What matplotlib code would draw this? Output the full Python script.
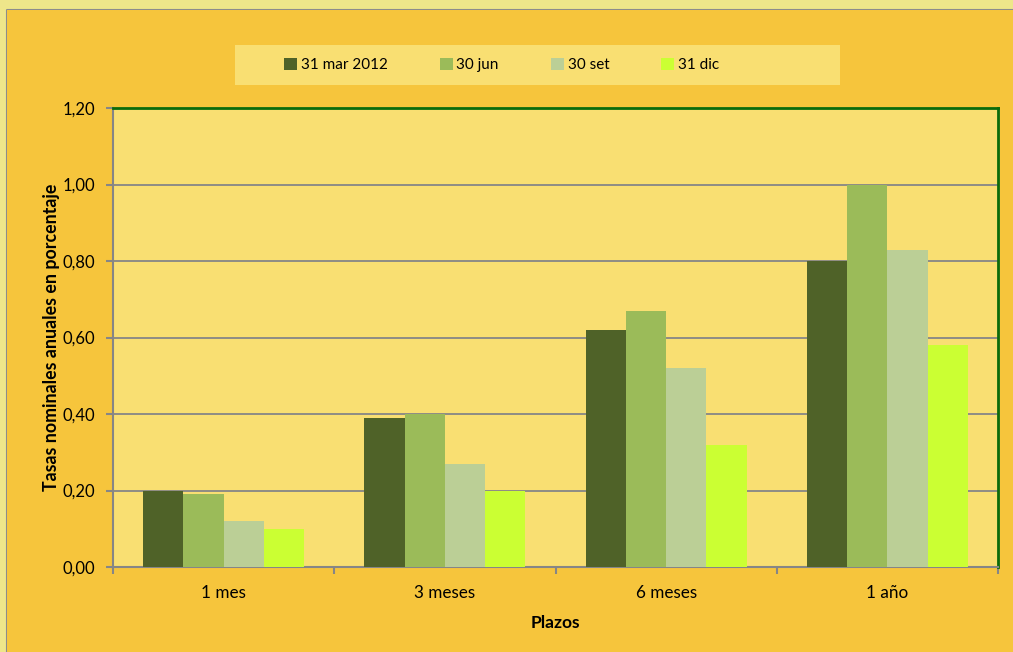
import numpy as np
import matplotlib
matplotlib.use("Agg")
import matplotlib.pyplot as plt
from matplotlib.patches import Rectangle
from matplotlib.lines import Line2D

plt.rcParams['font.family'] = ['Lato', 'DejaVu Sans']

categories = ['1 mes', '3 meses', '6 meses', '1 año']
series_names = ['31 mar 2012', '30 jun', '30 set', '31 dic']
mar_2012 = [0.20, 0.39, 0.62, 0.80]
jun = [0.19, 0.40, 0.67, 1.00]
set_ = [0.12, 0.27, 0.52, 0.83]
dic = [0.10, 0.20, 0.32, 0.58]
colors = ['#4F6228', '#9BBB59', '#BBCF96', '#CBFF33']
yticks = [0.0, 0.2, 0.4, 0.6, 0.8, 1.0, 1.2]

W, H = 1013, 652
fig = plt.figure(figsize=(W / 100, H / 100), dpi=100)
fig.patch.set_facecolor('#EEE68A')

# outer chart area (cropped at right/bottom), gray frame on top and left only
fig.patches.append(Rectangle((7 / W, -0.1), 1.2, 1.1 - 10 / H, transform=fig.transFigure,
                             facecolor='#F6C53C', edgecolor='none', zorder=-3))
fig.lines.append(Line2D([7 / W, 7 / W, 1.1], [-0.1, 1 - 10 / H, 1 - 10 / H],
                        transform=fig.transFigure, color='#8C8C8C', linewidth=1.5, zorder=-3))
# legend background
fig.patches.append(Rectangle((235 / W, 1 - 85 / H), 605 / W, 40 / H, transform=fig.transFigure,
                             facecolor='#F9DF72', edgecolor='none', zorder=-2))

ax = fig.add_axes([113 / W, 85 / H, 885 / W, 459 / H])
ax.set_facecolor('#F9DF72')

x = np.arange(len(categories))
bw = 0.182
series = [mar_2012, jun, set_, dic]
for i, (vals, name, c) in enumerate(zip(series, series_names, colors)):
    ax.bar(x + (i - 1.5) * bw, vals, width=bw, color=c, label=name, zorder=3, linewidth=0)

ax.set_xlim(-0.5, len(categories) - 0.5)
ax.set_ylim(0, 1.2)
ax.set_yticks(yticks)
ax.set_yticklabels([f'{v:.2f}'.replace('.', ',') for v in yticks], fontsize=12)
ax.set_xticks(np.arange(len(categories) + 1) - 0.5)
ax.set_xticklabels([])
ax.set_xticks(x, minor=True)
ax.set_xticklabels(categories, minor=True, fontsize=12.3)
ax.tick_params(axis='x', which='minor', length=0, pad=13)
ax.tick_params(axis='x', which='major', length=5, width=1.5, color='#868686', direction='out')
ax.tick_params(axis='y', length=5, width=1.5, color='#868686', direction='out', pad=8)

ax.grid(axis='y', color='#868686', linewidth=1.3, zorder=1)
ax.set_axisbelow(True)

for s in ['left', 'bottom']:
    ax.spines[s].set_color('#868686')
    ax.spines[s].set_linewidth(1.5)
for s in ['top', 'right']:
    ax.spines[s].set_color('#0B6B0B')
    ax.spines[s].set_linewidth(2)

ax.set_ylabel('Tasas nominales anuales en porcentaje', fontsize=12.8, fontweight='bold', labelpad=2)
ax.set_xlabel('Plazos', fontsize=12.5, fontweight='bold', labelpad=10)

fig.legend(loc='center left', bbox_to_anchor=(284 / W, 1 - 65 / H), ncol=4, frameon=False,
           fontsize=11, handlelength=0.85, handleheight=0.85, handletextpad=0.25,
           columnspacing=3.4, borderpad=0, borderaxespad=0)

fig.savefig('out.png', dpi=100, facecolor=fig.get_facecolor())
